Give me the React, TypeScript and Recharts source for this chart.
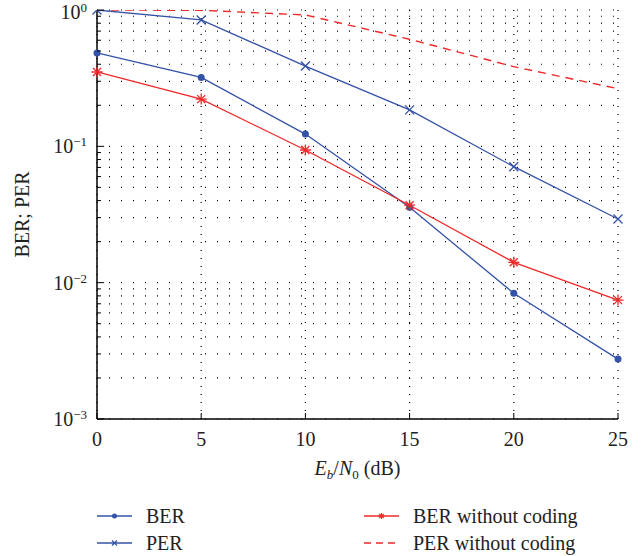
import React from 'react';
import { ComposedChart, Line, XAxis, YAxis, CartesianGrid } from 'recharts';

const snr = [0, 5, 10, 15, 20, 25];
const ber = [0.484, 0.32, 0.123, 0.0357, 0.00835, 0.00275];
const per = [1.0, 0.845, 0.388, 0.185, 0.0709, 0.0293];
const berNoCoding = [0.351, 0.222, 0.094, 0.037, 0.0141, 0.00745];
const perNoCoding = [1.0, 0.995, 0.92, 0.61, 0.384, 0.265];

const xTicks = [0, 5, 10, 15, 20, 25];
const majorY = [0.001, 0.01, 0.1, 1];
const majorLabels = ['−3', '−2', '−1', '0'];
const yTicks: number[] = [];
[0.001, 0.01, 0.1].forEach((d) => {
  for (let m = 1; m < 10; m++) yTicks.push(+(d * m).toPrecision(3));
});
yTicks.push(1);

const data = snr.map((x, i) => ({
  x,
  ber: ber[i],
  per: per[i],
  berNc: berNoCoding[i],
  perNc: perNoCoding[i],
}));

const BLUE = '#3352a8';
const RED = '#f02828';
const FONT = '"Liberation Serif", "DejaVu Serif", serif';

const isMajor = (v: number) => majorY.some((m) => Math.abs(m - v) < m * 1e-6);

const LeftTick = (props: any) => {
  const { x, y, payload } = props;
  const major = isMajor(payload.value);
  const idx = majorY.findIndex((m) => Math.abs(m - payload.value) < m * 1e-6);
  // top label sits right at the edge, nudge it down a touch so it isn't clipped
  const base = idx === 3 ? y + 9 : y + 7;
  return (
    <g>
      <line x1={x} x2={x + (major ? 7 : 4)} y1={y} y2={y} stroke="#000" strokeWidth={1} />
      {major && (
        <text x={x - 10} y={base} textAnchor="end" fontFamily={FONT} fontSize={20} fill="#222">
          <tspan>10</tspan>
          <tspan dy={-7} fontSize={13}>{majorLabels[idx]}</tspan>
        </text>
      )}
    </g>
  );
};

const RightTick = (props: any) => {
  const { x, y, payload } = props;
  const major = isMajor(payload.value);
  return <line x1={x} x2={x - (major ? 7 : 4)} y1={y} y2={y} stroke="#000" strokeWidth={1} />;
};

const BottomTick = (props: any) => {
  const { x, y, payload } = props;
  return (
    <g>
      <line x1={x} x2={x} y1={y} y2={y - 6} stroke="#000" strokeWidth={1} />
      <text x={x} y={y + 27} textAnchor="middle" fontFamily={FONT} fontSize={20} fill="#222">
        {payload.value}
      </text>
    </g>
  );
};

const TopTick = (props: any) => {
  const { x, y } = props;
  return <line x1={x} x2={x} y1={y} y2={y + 6} stroke="#000" strokeWidth={1} />;
};

const CircleDot = (props: any) => {
  const { cx, cy, index } = props;
  return <circle key={`c${index}`} cx={cx} cy={cy} r={3.5} fill={BLUE} />;
};

const CrossDot = (props: any) => {
  const { cx, cy, index } = props;
  const s = 4.5;
  return (
    <g key={`x${index}`} stroke={BLUE} strokeWidth={1.3}>
      <line x1={cx - s} y1={cy - s} x2={cx + s} y2={cy + s} />
      <line x1={cx - s} y1={cy + s} x2={cx + s} y2={cy - s} />
    </g>
  );
};

const StarDot = (props: any) => {
  const { cx, cy, index } = props;
  const s = 5.5;
  const d = 4;
  return (
    <g key={`s${index}`} stroke={RED} strokeWidth={1.3}>
      <line x1={cx - s} y1={cy} x2={cx + s} y2={cy} />
      <line x1={cx} y1={cy - s} x2={cx} y2={cy + s} />
      <line x1={cx - d} y1={cy - d} x2={cx + d} y2={cy + d} />
      <line x1={cx - d} y1={cy + d} x2={cx + d} y2={cy - d} />
    </g>
  );
};

const legendItems = [
  { name: 'BER', color: BLUE, dash: undefined, marker: 'circle', x: 97, y: 516 },
  { name: 'PER', color: BLUE, dash: undefined, marker: 'cross', x: 97, y: 543 },
  { name: 'BER without coding', color: RED, dash: undefined, marker: 'star', x: 364, y: 516 },
  { name: 'PER without coding', color: RED, dash: '7 5', marker: 'none', x: 364, y: 543 },
];

const LegendMarker = ({ marker, cx, cy, color }: any) => {
  if (marker === 'circle') return <circle cx={cx} cy={cy} r={2.5} fill={color} />;
  if (marker === 'cross')
    return (
      <g stroke={color} strokeWidth={1.2}>
        <line x1={cx - 2.5} y1={cy - 2.5} x2={cx + 2.5} y2={cy + 2.5} />
        <line x1={cx - 2.5} y1={cy + 2.5} x2={cx + 2.5} y2={cy - 2.5} />
      </g>
    );
  if (marker === 'star')
    return (
      <g stroke={color} strokeWidth={1.2}>
        <line x1={cx - 3} y1={cy} x2={cx + 3} y2={cy} />
        <line x1={cx} y1={cy - 3} x2={cx} y2={cy + 3} />
        <line x1={cx - 2.2} y1={cy - 2.2} x2={cx + 2.2} y2={cy + 2.2} />
        <line x1={cx - 2.2} y1={cy + 2.2} x2={cx + 2.2} y2={cy - 2.2} />
      </g>
    );
  return null;
};

export default function App() {
  return (
    <div style={{ position: 'absolute', left: 0, top: 0, width: 644, height: 556, background: '#fff' }}>
      <ComposedChart width={644} height={556} data={data} margin={{ top: 10, right: 26, left: 0, bottom: 0 }}>
        <CartesianGrid horizontal vertical={false} stroke="#000" strokeDasharray="1 11" strokeWidth={1.2} />
        <CartesianGrid horizontal={false} vertical stroke="#000" strokeDasharray="1 7" strokeWidth={1.2} />
        <XAxis
          dataKey="x"
          type="number"
          domain={[0, 25]}
          ticks={xTicks}
          height={137}
          tickSize={0}
          tickMargin={0}
          tickLine={false}
          axisLine={{ stroke: '#000', strokeWidth: 1.5 }}
          tick={<BottomTick />}
          label={(p: any) => {
            const vb = p.viewBox;
            const cx = vb.x + vb.width / 2;
            return (
              <text x={cx} y={vb.y + 56} textAnchor="middle" fontFamily={FONT} fontSize={20} fill="#222">
                <tspan fontStyle="italic">E</tspan>
                <tspan fontStyle="italic" fontSize={13} dy={4}>b</tspan>
                <tspan dy={-4}>/</tspan>
                <tspan fontStyle="italic">N</tspan>
                <tspan fontSize={13} dy={4}>0</tspan>
                <tspan dy={-4}> (dB)</tspan>
              </text>
            );
          }}
        />
        <XAxis
          xAxisId="top"
          orientation="top"
          dataKey="x"
          type="number"
          domain={[0, 25]}
          ticks={xTicks}
          height={0}
          tickSize={0}
          tickMargin={0}
          tickLine={false}
          axisLine={{ stroke: '#000', strokeWidth: 1.5 }}
          tick={<TopTick />}
        />
        <YAxis
          type="number"
          scale="log"
          domain={[0.001, 1]}
          allowDataOverflow
          ticks={yTicks}
          interval={0}
          width={97}
          tickSize={0}
          tickMargin={0}
          tickLine={false}
          axisLine={{ stroke: '#000', strokeWidth: 1.5 }}
          tick={<LeftTick />}
          label={(p: any) => {
            const vb = p.viewBox;
            const cy = vb.y + vb.height / 2;
            return (
              <text
                x={29}
                y={cy}
                transform={`rotate(-90 29 ${cy})`}
                textAnchor="middle"
                fontFamily={FONT}
                fontSize={20}
                fill="#222"
              >
                BER; PER
              </text>
            );
          }}
        />
        <YAxis
          yAxisId="right"
          orientation="right"
          type="number"
          scale="log"
          domain={[0.001, 1]}
          allowDataOverflow
          ticks={yTicks}
          interval={0}
          width={0}
          tickSize={0}
          tickMargin={0}
          tickLine={false}
          axisLine={{ stroke: '#000', strokeWidth: 1.5 }}
          tick={<RightTick />}
        />
        <Line dataKey="perNc" stroke={RED} strokeWidth={1.4} strokeDasharray="8 6" dot={false} isAnimationActive={false} />
        <Line dataKey="ber" stroke={BLUE} strokeWidth={1.3} dot={CircleDot} isAnimationActive={false} />
        <Line dataKey="per" stroke={BLUE} strokeWidth={1.3} dot={CrossDot} isAnimationActive={false} />
        <Line dataKey="berNc" stroke={RED} strokeWidth={1.3} dot={StarDot} isAnimationActive={false} />
      </ComposedChart>
      <svg width={644} height={556} style={{ position: 'absolute', left: 0, top: 0, pointerEvents: 'none' }}>
        {legendItems.map((it) => (
          <g key={it.name}>
            <line x1={it.x} x2={it.x + 35} y1={it.y} y2={it.y} stroke={it.color} strokeWidth={1.3} strokeDasharray={it.dash} />
            <LegendMarker marker={it.marker} cx={it.x + 17.5} cy={it.y} color={it.color} />
            <text x={it.x + 49} y={it.y + 7} fontFamily={FONT} fontSize={20} fill="#222">
              {it.name}
            </text>
          </g>
        ))}
      </svg>
    </div>
  );
}
